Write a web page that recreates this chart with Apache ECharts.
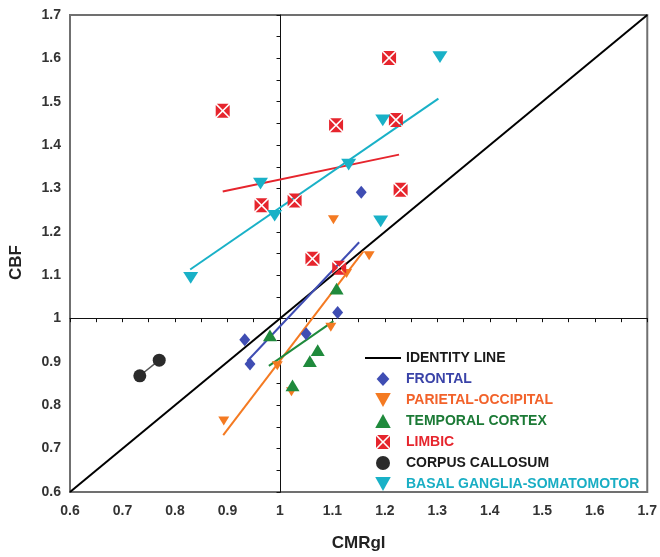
<!DOCTYPE html>
<html>
<head>
    <meta charset="utf-8">
    <script src="https://cdn.jsdelivr.net/npm/echarts@6/dist/echarts.min.js"></script>
    <style>
        body { margin: 0; background: #fff; }
        #main { width: 660px; height: 557px; }
    </style>
</head>

<body>
    <div id="main"></div>

    <script type="text/javascript">
        var myChart = echarts.init(document.getElementById('main'));

        // region points [CMRgl, CBF]
        var frontal = [[0.933, 0.951], [0.943, 0.895], [1.050, 0.965], [1.110, 1.014], [1.155, 1.291]];
        var parietal = [[0.893, 0.764], [0.995, 0.891], [1.022, 0.831], [1.097, 0.980], [1.102, 1.228], [1.127, 1.104], [1.170, 1.145]];
        var temporal = [[0.981, 0.961], [1.024, 0.846], [1.057, 0.902], [1.072, 0.927], [1.108, 1.069]];
        var limbic = [[0.891, 1.479], [0.965, 1.261], [1.028, 1.272], [1.062, 1.138], [1.107, 1.446], [1.113, 1.117], [1.208, 1.601], [1.221, 1.458], [1.230, 1.297]];
        var callosum = [[0.733, 0.868], [0.770, 0.904]];
        var basal = [[0.830, 1.094], [0.963, 1.311], [0.990, 1.237], [1.131, 1.355], [1.192, 1.224], [1.196, 1.457], [1.305, 1.603]];

        // regression lines (end points)
        var frontalFit = [[0.938, 0.902], [1.151, 1.176]];
        var parietalFit = [[0.892, 0.731], [1.159, 1.155]];
        var temporalFit = [[0.979, 0.891], [1.102, 0.994]];
        var limbicFit = [[0.891, 1.293], [1.227, 1.378]];
        var basalFit = [[0.829, 1.113], [1.302, 1.507]];
        var identity = [[0.6, 0.6], [1.7, 1.7]];

        var axisMin = 0.6, axisMax = 1.7, axisStep = 0.1;

        var colors = {
            frontal: '#3f4db3',
            parietal: '#f47a22',
            temporal: '#1f8a3c',
            limbic: '#e6252d',
            callosum: '#2b2b2b',
            basal: '#19b1c7'
        };

        var limbicSymbol = 'path://M0.8,0L9.2,0L5,4.2Z M10,0.8L10,9.2L5.8,5Z M0.8,10L9.2,10L5,5.8Z M0,0.8L0,9.2L4.2,5Z';
        var downTri = 'path://M0,0L10,0L5,9Z';
        var upTri = 'path://M5,0L10,9L0,9Z';
        var diamond = 'path://M5,0L10,5.5L5,11L0,5.5Z';
        var lineIcon = 'path://M0,0L36,0L36,2L0,2Z';
        var font = 'Liberation Sans, Arial, sans-serif';

        function fitLine(name, data, color) {
            return {
                name: name,
                type: 'line',
                data: data,
                symbol: 'none',
                z: 2,
                silent: true,
                lineStyle: { color: color, width: 2 }
            };
        }

        function crossAxis(offset) {
            return {
                type: 'value',
                min: axisMin,
                max: axisMax,
                interval: axisStep,
                offset: offset,
                axisLine: { show: true, lineStyle: { color: '#111', width: 1 } },
                axisTick: { show: true, inside: false, length: 4, lineStyle: { color: '#111' } },
                minorTick: { show: true, splitNumber: 2, length: 4, lineStyle: { color: '#111' } },
                axisLabel: { show: false },
                splitLine: { show: false }
            };
        }

        var mainX = {
            type: 'value',
            min: axisMin,
            max: axisMax,
            interval: axisStep,
            name: 'CMRgl',
            nameLocation: 'middle',
            nameGap: 43,
            nameTextStyle: { fontFamily: font, fontWeight: 'bold', fontSize: 17, color: '#222' },
            axisLine: { show: false },
            axisTick: { show: false },
            splitLine: { show: false },
            axisLabel: { margin: 12, fontFamily: font, fontWeight: 'bold', fontSize: 14, color: '#333' }
        };

        var mainY = {
            type: 'value',
            min: axisMin,
            max: axisMax,
            interval: axisStep,
            name: 'CBF',
            nameLocation: 'middle',
            nameGap: 45,
            nameTextStyle: { fontFamily: font, fontWeight: 'bold', fontSize: 17, color: '#222', padding: [0, 18, 0, 0] },
            axisLine: { show: false },
            axisTick: { show: false },
            splitLine: { show: false },
            axisLabel: { margin: 9, fontFamily: font, fontWeight: 'bold', fontSize: 14, color: '#333' }
        };

        // cross lines at CMRgl = 1 and CBF = 1
        var plotW = 579, plotH = 478;
        var xCross = crossAxis(-(1 - axisMin) / (axisMax - axisMin) * plotH);
        xCross.position = 'bottom';
        var yCross = crossAxis(-(1 - axisMin) / (axisMax - axisMin) * plotW);
        yCross.position = 'left';

        myChart.setOption({
            animation: false,
            grid: {
                left: 69, right: 12, top: 15, bottom: 64,
                show: true,
                borderColor: '#707070',
                borderWidth: 2
            },
            legend: {
                orient: 'vertical',
                left: 360,
                top: 346,
                itemWidth: 36,
                itemHeight: 14,
                itemGap: 7,
                symbolKeepAspect: true,
                textStyle: { fontFamily: font, fontWeight: 'bold', fontSize: 14 },
                data: [
                    { name: 'IDENTITY LINE', icon: lineIcon, textStyle: { color: '#1a1a1a' } },
                    { name: 'FRONTAL', textStyle: { color: '#3a43a8' } },
                    { name: 'PARIETAL-OCCIPITAL', textStyle: { color: '#f2622a' } },
                    { name: 'TEMPORAL CORTEX', textStyle: { color: '#1c7a36' } },
                    { name: 'LIMBIC', textStyle: { color: '#e6252d' } },
                    { name: 'CORPUS CALLOSUM', icon: 'circle', textStyle: { color: '#1a1a1a' } },
                    { name: 'BASAL GANGLIA-SOMATOMOTOR', textStyle: { color: '#19aec4' } }
                ]
            },
            xAxis: [mainX, xCross],
            yAxis: [mainY, yCross],
            series: [
                {
                    name: 'IDENTITY LINE',
                    type: 'line',
                    data: identity,
                    symbol: 'none',
                    z: 2,
                    lineStyle: { color: '#000', width: 2 },
                    itemStyle: { color: '#000' }
                },
                fitLine('frontal fit', frontalFit, colors.frontal),
                fitLine('parietal fit', parietalFit, colors.parietal),
                fitLine('temporal fit', temporalFit, colors.temporal),
                fitLine('limbic fit', limbicFit, colors.limbic),
                fitLine('basal fit', basalFit, colors.basal),
                {
                    name: 'FRONTAL',
                    type: 'scatter',
                    data: frontal,
                    symbol: diamond,
                    symbolSize: [12, 13],
                    symbolKeepAspect: true,
                    z: 3,
                    itemStyle: { color: colors.frontal, opacity: 1 }
                },
                {
                    name: 'PARIETAL-OCCIPITAL',
                    type: 'scatter',
                    data: parietal,
                    symbol: downTri,
                    symbolSize: [11, 10],
                    symbolKeepAspect: true,
                    z: 3,
                    itemStyle: { color: colors.parietal, opacity: 1 }
                },
                {
                    name: 'TEMPORAL CORTEX',
                    type: 'scatter',
                    data: temporal,
                    symbol: upTri,
                    symbolSize: [14, 13],
                    symbolKeepAspect: true,
                    z: 3,
                    itemStyle: { color: colors.temporal, opacity: 1 }
                },
                {
                    name: 'LIMBIC',
                    type: 'scatter',
                    data: limbic,
                    symbol: limbicSymbol,
                    symbolSize: 14,
                    symbolKeepAspect: true,
                    z: 3,
                    itemStyle: { color: colors.limbic, opacity: 1 }
                },
                {
                    name: 'CORPUS CALLOSUM',
                    type: 'line',
                    data: callosum,
                    symbol: 'circle',
                    symbolSize: 13,
                    showSymbol: true,
                    z: 3,
                    lineStyle: { color: '#555', width: 1.5 },
                    itemStyle: { color: colors.callosum }
                },
                {
                    name: 'BASAL GANGLIA-SOMATOMOTOR',
                    type: 'scatter',
                    data: basal,
                    symbol: downTri,
                    symbolSize: [15, 13],
                    symbolKeepAspect: true,
                    z: 3,
                    itemStyle: { color: colors.basal, opacity: 1 }
                }
            ]
        });
    </script>
</body>

</html>
